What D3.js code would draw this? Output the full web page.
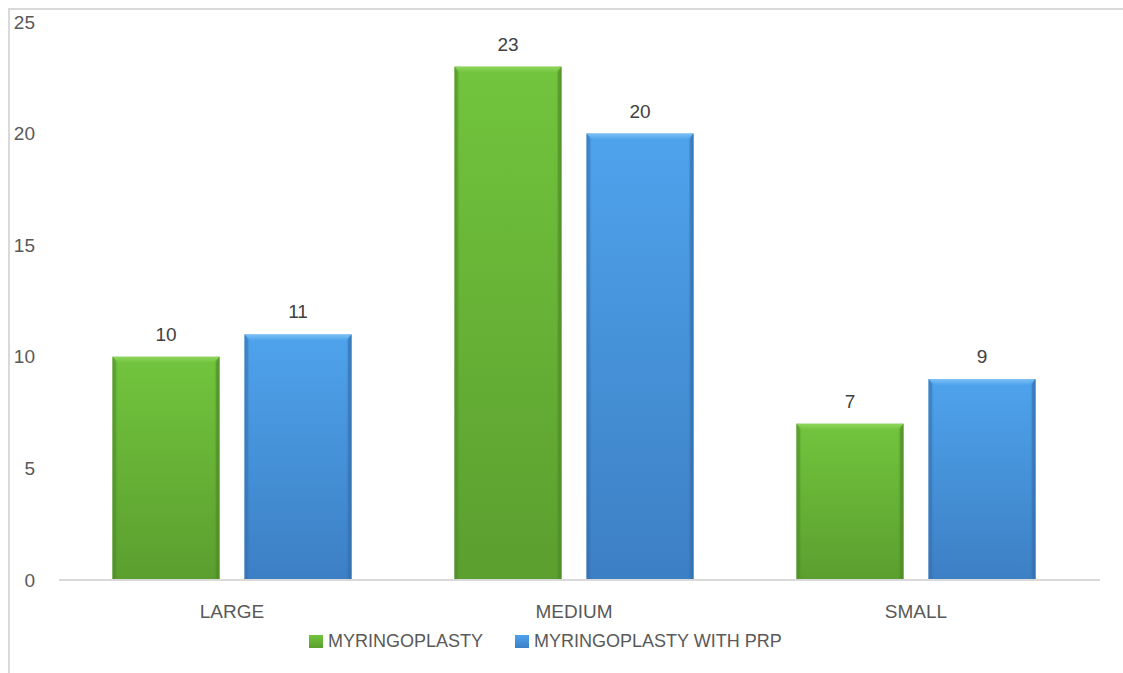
<!DOCTYPE html>
<html>
<head>
<meta charset="utf-8">
<script src="https://cdn.jsdelivr.net/npm/d3@7"></script>
<style>
  html, body { margin: 0; padding: 0; background: #fff; }
  svg { display: block; font-family: "Liberation Sans", Arial, sans-serif; }
</style>
</head>
<body>
<svg id="chart" width="1123" height="673"></svg>
<script>
// Perforation size groups and counts per procedure
const categories = ["LARGE", "MEDIUM", "SMALL"];
const seriesNames = ["MYRINGOPLASTY", "MYRINGOPLASTY WITH PRP"];
const myringoplasty = [10, 23, 7];
const myringoplastyPrp = [11, 20, 9];
const yTicks = [0, 5, 10, 15, 20, 25];

const svg = d3.select("#chart");
const W = 1123, H = 673;

// chart frame
svg.append("rect")
  .attr("x", 9).attr("y", 9).attr("width", W).attr("height", H)
  .attr("fill", "#fff").attr("stroke", "#d9d9d9").attr("stroke-width", 2);

const plot = { left: 61, right: 1087, top: 22, bottom: 580 };

const x = d3.scaleBand().domain(categories).range([plot.left, plot.right]);
const half = 119.5;
const inner = d3.scaleBand().domain(seriesNames)
  .range([x.bandwidth() / 2 - half, x.bandwidth() / 2 + half])
  .paddingInner(0.19).paddingOuter(0);
const y = d3.scaleLinear().domain([0, 25]).range([plot.bottom, plot.top]);

// gradients for bevelled bars
const defs = svg.append("defs");
const palettes = [
  { id: "g", top: "#72c43d", bottom: "#5b9f2f", edge: "#4d8a27", light: "#8fd65c" },
  { id: "b", top: "#4ea3ec", bottom: "#3d7fc4", edge: "#336fae", light: "#7cc0f5" }
];
palettes.forEach(p => {
  const lg = defs.append("linearGradient").attr("id", "fill-" + p.id)
    .attr("x1", 0).attr("y1", 0).attr("x2", 0).attr("y2", 1);
  lg.append("stop").attr("offset", "0%").attr("stop-color", p.top);
  lg.append("stop").attr("offset", "100%").attr("stop-color", p.bottom);
  const side = defs.append("linearGradient").attr("id", "side-" + p.id)
    .attr("x1", 0).attr("y1", 0).attr("x2", 1).attr("y2", 0);
  side.append("stop").attr("offset", "0%").attr("stop-color", p.edge).attr("stop-opacity", 0.55);
  side.append("stop").attr("offset", "5%").attr("stop-color", p.edge).attr("stop-opacity", 0);
  side.append("stop").attr("offset", "95%").attr("stop-color", p.edge).attr("stop-opacity", 0);
  side.append("stop").attr("offset", "100%").attr("stop-color", p.edge).attr("stop-opacity", 0.65);
  const topG = defs.append("linearGradient").attr("id", "top-" + p.id)
    .attr("x1", 0).attr("y1", 0).attr("x2", 0).attr("y2", 1);
  topG.append("stop").attr("offset", "0%").attr("stop-color", p.light);
  topG.append("stop").attr("offset", "100%").attr("stop-color", p.top);
});

// y-axis tick labels
svg.append("g").selectAll("text").data(yTicks).join("text")
  .attr("x", 35).attr("y", d => y(d)).attr("dy", "0.35em")
  .attr("text-anchor", "end").attr("font-size", 19).attr("fill", "#595959")
  .text(d => d);

// bars
const series = [
  { name: seriesNames[0], values: myringoplasty, pal: palettes[0] },
  { name: seriesNames[1], values: myringoplastyPrp, pal: palettes[1] }
];

const bevel = 6;
series.forEach(s => {
  const g = svg.append("g");
  categories.forEach((c, i) => {
    const v = s.values[i];
    const x0 = x(c) + inner(s.name);
    const w = inner.bandwidth();
    const y0 = y(v);
    const h = y(0) - y0;
    g.append("rect").attr("x", x0).attr("y", y0).attr("width", w).attr("height", h)
      .attr("fill", `url(#fill-${s.pal.id})`);
    g.append("rect").attr("x", x0).attr("y", y0).attr("width", w).attr("height", h)
      .attr("fill", `url(#side-${s.pal.id})`);
    // top bevel
    g.append("path")
      .attr("d", `M${x0},${y0} L${x0 + w},${y0} L${x0 + w - bevel},${y0 + bevel} L${x0 + bevel},${y0 + bevel} Z`)
      .attr("fill", `url(#top-${s.pal.id})`);
    // side bevels
    g.append("path")
      .attr("d", `M${x0},${y0} L${x0 + bevel * 0.6},${y0 + bevel} L${x0 + bevel * 0.6},${y(0)} L${x0},${y(0)} Z`)
      .attr("fill", s.pal.edge).attr("opacity", 0.35);
    g.append("path")
      .attr("d", `M${x0 + w},${y0} L${x0 + w - bevel * 0.6},${y0 + bevel} L${x0 + w - bevel * 0.6},${y(0)} L${x0 + w},${y(0)} Z`)
      .attr("fill", s.pal.edge).attr("opacity", 0.5);
    // value label
    svg.append("text")
      .attr("x", x0 + w / 2).attr("y", y0 - 16)
      .attr("text-anchor", "middle").attr("font-size", 19).attr("fill", "#404040")
      .text(v);
  });
});

// baseline
svg.append("line")
  .attr("x1", 59).attr("x2", 1100).attr("y1", y(0)).attr("y2", y(0))
  .attr("stroke", "#d9d9d9").attr("stroke-width", 2);

// category labels
svg.append("g").selectAll("text").data(categories).join("text")
  .attr("x", d => x(d) + x.bandwidth() / 2).attr("y", 618)
  .attr("text-anchor", "middle").attr("font-size", 19).attr("fill", "#595959")
  .text(d => d);

// legend
const legendItems = [
  { name: seriesNames[0], pal: palettes[0], x: 309 },
  { name: seriesNames[1], pal: palettes[1], x: 515 }
];
const lg = svg.append("g");
legendItems.forEach(it => {
  lg.append("rect").attr("x", it.x).attr("y", 635).attr("width", 14).attr("height", 13)
    .attr("fill", `url(#fill-${it.pal.id})`);
  lg.append("text").attr("x", it.x + 19).attr("y", 647)
    .attr("font-size", 18).attr("fill", "#595959").text(it.name);
});
</script>
</body>
</html>
